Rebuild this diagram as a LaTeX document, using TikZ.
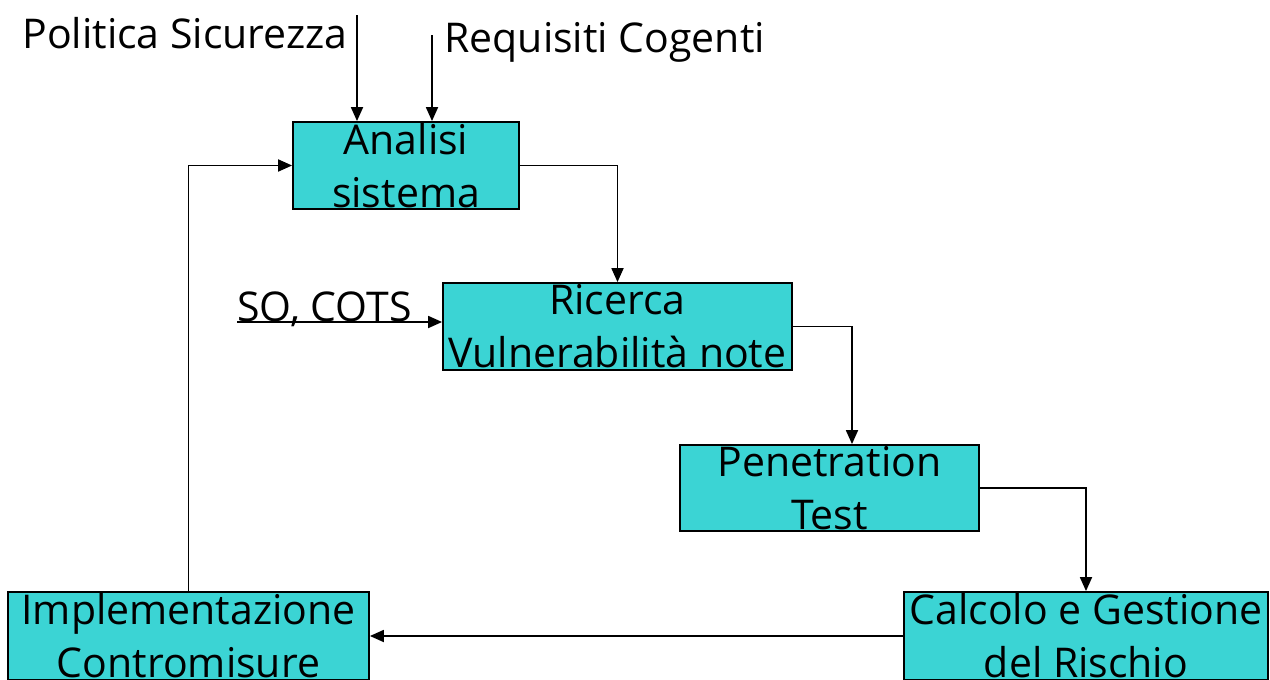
\documentclass[tikz,border=0pt]{standalone}
\usepackage{fontspec}
\setmainfont{Open Sans}
\usetikzlibrary{arrows.meta,calc}
\definecolor{boxcyan}{RGB}{59,212,212}
\tikzset{
  px/.style={x=0.5pt,y=-0.5pt},
  stage/.style={draw=black,line width=0.9pt,fill=boxcyan,inner sep=0pt,align=center,
    font=\fontsize{20.5}{26.5}\selectfont},
  flow/.style={line width=0.9pt,-{Triangle[length=7pt,width=6pt]}},
  lab/.style={anchor=base west,inner sep=0pt,font=\fontsize{20.5}{26}\selectfont},
}
\begin{document}
\begin{tikzpicture}[px]
\useasboundingbox (0,0) rectangle (1270,680);
\node[stage,minimum width=113pt,minimum height=43.5pt] (anal) at (406,165.5) {Analisi\\sistema};
\node[stage,minimum width=174.5pt,minimum height=43.5pt] (ric) at (617.5,326.5) {Ricerca\\Vulnerabilità note};
\node[stage,minimum width=149.5pt,minimum height=43pt] (pen) at (829.5,488) {Penetration\\Test};
\node[stage,minimum width=182pt,minimum height=44pt] (calc) at (1086,636) {Calcolo e Gestione\\del Rischio};
\node[stage,minimum width=180.5pt,minimum height=44pt] (impl) at (188.5,636) {Implementazione\\Contromisure};
\node[lab] (pol) at (22,48) {Politica Sicurezza};
\node[lab] (req) at (444,53) {Requisiti Cogenti};
\node[lab] (so) at (237,321) {SO, COTS};
\coordinate (polS) at (357,15);
\coordinate (reqS) at (432,35);
\coordinate (soS) at (237,322);
\draw[flow] (polS) -- (polS |- anal.north);
\draw[flow] (reqS) -- (reqS |- anal.north);
\draw[flow] (anal.east) -| (ric.north);
\draw[flow] (soS) -- (soS -| ric.west);
\draw[flow] (ric.east) -| ($(pen.north)+(22.5,0)$);
\draw[flow] (pen.east) -| (calc.north);
\draw[flow] (calc.west) -- (impl.east);
\draw[flow] (impl.north) |- (anal.west);
\end{tikzpicture}
\end{document}
